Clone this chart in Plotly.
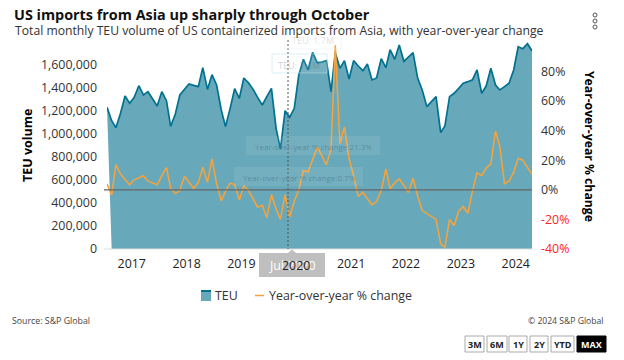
import pandas as pd
import plotly.graph_objects as go

months = pd.date_range("2017-01-01", "2024-10-01", freq="MS")
teu_volume = [1232000,1116000,1055000,1180000,1330000,1267000,1319000,1420000,1339000,1368000,1304000,1243000,
 1368000,1290000,1067000,1174000,1339000,1383000,1435000,1423000,1412000,1577000,1388000,1516000,
 1426000,1209000,1064000,1223000,1394000,1310000,1487000,1446000,1388000,1319000,1252000,1325000,
 1397000,1049000,870000,1203000,1145000,1223000,1513000,1649000,1557000,1710000,1620000,1626000,
 1638000,1368000,1707000,1571000,1638000,1478000,1638000,1591000,1551000,1609000,1470000,1487000,
 1655000,1577000,1733000,1649000,1774000,1632000,1672000,1707000,1484000,1383000,1238000,1281000,
 1325000,1012000,1070000,1325000,1354000,1397000,1441000,1455000,1472000,1557000,1354000,1417000,
 1571000,1426000,1383000,1412000,1441000,1557000,1759000,1742000,1785000,1722000]
yoy_change = [4.0,-3.6,17.1,10.8,7.0,3.4,6.8,8.1,9.5,5.9,4.7,3.4,
 9.7,15.1,1.1,-2.5,-0.5,9.2,5.2,0.9,5.0,15.3,5.2,21.0,
 4.1,-7.4,-1.1,4.7,3.4,-6.8,2.8,-0.5,-6.1,-11.7,-10.4,-18.9,
 -3.2,-12.9,-20.0,-3.4,-18.5,-7.7,0.0,13.1,12.0,21.0,28.9,23.2,
 16.9,27.7,97.7,31.2,42.5,21.0,9.7,-4.5,-1.6,-6.1,-10.1,-7.9,
 -0.5,14.2,0.7,4.7,7.4,2.9,-1.8,7.9,-4.5,-14.0,-16.2,-17.8,
 -20.0,-36.5,-39.0,-20.0,-24.1,-14.4,-11.3,-15.8,-0.5,11.5,9.7,14.7,
 17.6,39.7,28.9,4.1,5.9,12.0,21.4,20.1,15.3,10.4]
year_labels = ["2017","2018","2019","2020","2021","2022","2023","2024"]
left_ticks = [0,200000,400000,600000,800000,1000000,1200000,1400000,1600000]
right_ticks = [-40,-20,0,20,40,60,80]
range_buttons = ["3M","6M","1Y","2Y","YTD","MAX"]

FONT = "Open Sans"
TEAL = "#00718f"
FILL = "#67a8ba"
ORANGE = "#f3a33f"
L, R, T, B = 107, 532, 42, 249
TXT = 12.4

def px(x): return (x - L) / (R - L)
def py(y): return (B - y) / (B - T)

fig = go.Figure()
fig.add_trace(go.Scatter(
    x=list(months) + [months[-1], months[1]], y=teu_volume + [0, 0],
    mode="none", fill="toself", fillcolor=FILL, showlegend=False, hoverinfo="skip"))
fig.add_trace(go.Scatter(x=months, y=teu_volume, mode="lines", name="TEU",
    line=dict(color=TEAL, width=1.7), showlegend=False))
fig.add_trace(go.Scatter(x=months, y=yoy_change, mode="lines", name="Year-over-year % change",
    yaxis="y2", line=dict(color=ORANGE, width=1.6), showlegend=False))

shapes, notes = [], []
def rect(x0, y0, x1, y1, fill="rgba(0,0,0,0)", line="rgba(0,0,0,0)", w=1):
    shapes.append(dict(type="rect", xref="paper", yref="paper", x0=px(x0), x1=px(x1), y0=py(y0), y1=py(y1),
                       fillcolor=fill, line=dict(color=line, width=w), layer="above"))
def hline(x0, x1, y, color, w=1, dash="solid"):
    shapes.append(dict(type="line", xref="paper", yref="paper", x0=px(x0), x1=px(x1), y0=py(y), y1=py(y),
                       line=dict(color=color, width=w, dash=dash), layer="above"))
def text(x, y, s, size=TXT, color="#333333", anchor="left", angle=0):
    notes.append(dict(xref="paper", yref="paper", x=px(x), y=py(y), text=s, showarrow=False, xanchor=anchor,
                      yanchor="middle", textangle=angle, align=anchor, borderpad=0,
                      font=dict(family=FONT, size=size, color=color)))

# axis baselines
hline(104, R, B, "#dddddd")
shapes.append(dict(type="line", xref="paper", yref="y2", x0=px(104), x1=1, y0=0, y1=0,
                   line=dict(color="#666666", width=1.2), layer="above"))
# crosshair
shapes.append(dict(type="line", xref="paper", yref="paper", x0=px(288), x1=px(288), y0=py(40), y1=0,
                   line=dict(color="#555555", width=1, dash="2px,2px"), layer="above"))
# fading tooltips
rect(285, 24, 341, 49, "rgba(255,255,255,0.05)", "rgba(225,238,242,0.45)")
text(312.5, 41, "TEU: 1.7M", 9, "rgba(90,110,120,0.22)", "center")
rect(272, 54, 327, 73, "rgba(255,255,255,0.10)", "rgba(190,225,235,0.55)")
text(299, 65, "TEU: 1.6M", 9, "rgba(70,100,115,0.30)", "center")
rect(246, 136, 380, 155, "rgba(255,255,255,0.09)")
text(313, 146, "Year-over-year % change:21.3%", 8, "rgba(50,90,110,0.45)", "center")
rect(234, 167, 363, 186, "rgba(255,255,255,0.09)")
text(299, 177, "Year-over-year % change:0.7%", 8, "rgba(50,90,110,0.45)", "center")
# crosshair date label
rect(259, 253, 325, 277, "#bfbfbf")
shapes.append(dict(type="path", xref="paper", yref="paper", layer="above", fillcolor="#bfbfbf", line=dict(width=0),
                   path=f"M {px(288)} {py(253)} L {px(292)} {py(249.5)} L {px(296)} {py(253)} Z"))
text(292, 265, "Jul 2020", TXT, "#ffffff", "center")
text(296, 265, "2020", TXT, "#222222", "center")
# legend
rect(201, 290, 211, 301, FILL)
rect(201, 290, 211, 292, TEAL)
text(214, 295.5, "TEU", TXT, "#333333")
hline(255, 264, 295.5, ORANGE, 1.5)
text(268, 295.5, "Year-over-year % change", TXT, "#333333")
# subtitle, credits, axis titles
text(14, 30.5, "Total monthly TEU volume of US containerized imports from Asia, with year-over-year change", 12.2, "#333333")
text(11, 321, "Source: S&amp;P Global", 8.8, "#444444")
text(604, 321, "© 2024 S&amp;P Global", 8.6, "#444444", "right")
text(27, 146, "<b>TEU volume</b>", 12.5, "#000000", "center", -90)
text(590, 146, "<b>Year-over-year % change</b>", 12.2, "#000000", "center", 90)
# range selector
spans = [(465,484),(487,507),(509,527),(530,548),(551,574),(577,606)]
for label, (a, b) in zip(range_buttons, spans):
    on = label == "MAX"
    rect(a, 336, b, 352, "#000000" if on else "#ffffff", "#000000" if on else "#aaaaaa")
    text((a + b) / 2, 344, f"<b>{label}</b>", 9, "#ffffff" if on else "#222222", "center")
# menu dots
for cy in (15, 21, 27):
    shapes.append(dict(type="circle", xref="paper", yref="paper", x0=px(593), x1=px(597), y0=py(cy-2), y1=py(cy+2),
                       line=dict(color="#555555", width=1), fillcolor="#ffffff", layer="above"))

fig.update_layout(
    width=624, height=360, autosize=False,
    margin=dict(l=L, r=624-R, t=T, b=360-B),
    paper_bgcolor="#ffffff", plot_bgcolor="#ffffff",
    font=dict(family=FONT, size=TXT, color="#333333"),
    title=dict(text="<b>US imports from Asia up sharply through October</b>", x=14/624, xanchor="left",
               y=1-15/360, yanchor="middle", font=dict(family=FONT, size=14.4, color="#111111")),
    xaxis=dict(type="date", range=[months[0], months[-1]], showgrid=False, zeroline=False, showline=False,
               tickmode="array", tickvals=[f"{y}-06-15" for y in year_labels], ticktext=year_labels,
               ticks="", tickangle=0, tickfont=dict(size=TXT, color="#222222"), ticklabelstandoff=6),
    yaxis=dict(range=[0, 1800000], showgrid=False, zeroline=False, showline=False, tickmode="array",
               tickvals=left_ticks, ticktext=[f"{v:,}" for v in left_ticks], ticks="",
               tickfont=dict(size=TXT, color="#333333"), ticklabelstandoff=9),
    yaxis2=dict(range=[-40, 100], overlaying="y", side="right", showgrid=False, zeroline=False, showline=False,
                tickmode="array", tickvals=right_ticks,
                ticktext=[f"<span style='color:#ff2222'>{v}%</span>" if v < 0 else f"{v}%" for v in right_ticks],
                ticks="", tickfont=dict(size=TXT, color="#333333"), ticklabelstandoff=8),
    shapes=shapes, annotations=notes, showlegend=False,
)
fig.write_html("out.html", config=dict(displayModeBar=False),
               post_script="document.body.style.margin='0';")
